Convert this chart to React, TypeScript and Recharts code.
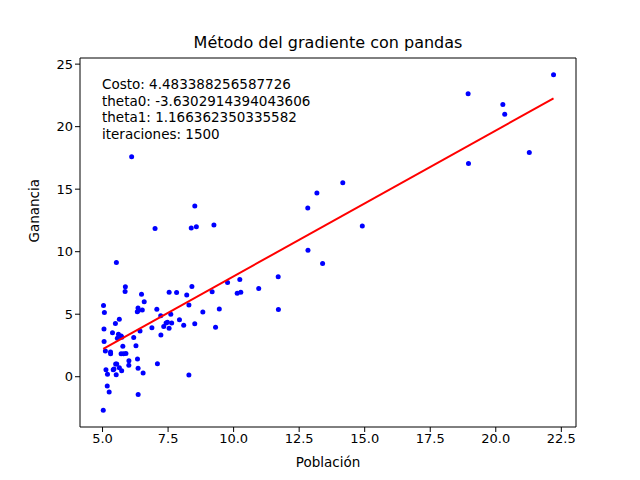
import { ComposedChart, Scatter, XAxis, YAxis } from 'recharts';

const poblacion = [6.1101,5.5277,8.5186,7.0032,5.8598,8.3829,7.4764,8.5781,6.4862,5.0546,5.7107,14.164,5.734,8.4084,5.6407,5.3794,6.3654,5.1301,6.4296,7.0708,6.1891,20.27,5.4901,6.3261,5.5649,18.945,12.828,10.957,13.176,22.203,5.2524,6.5894,9.2482,5.8918,8.2111,7.9334,8.0959,5.6063,12.836,6.3534,5.4069,6.8825,11.708,5.7737,7.8247,7.0931,5.0702,5.8014,11.7,5.5416,7.5402,5.3077,7.4239,7.6031,6.3328,6.3589,6.2742,5.6397,9.3102,9.4536,8.8254,5.1793,21.279,14.908,18.959,7.2182,8.2951,10.236,5.4994,20.341,10.136,7.3345,6.0062,7.2259,5.0269,6.5479,7.5386,5.0365,10.274,5.1077,5.7292,5.1884,6.3557,9.7687,6.5159,8.5172,9.1802,6.002,5.5204,5.0594,5.7077,7.6366,5.8707,5.3054,8.2934,13.394,5.4369];
const ganancia = [17.592,9.1302,13.662,11.854,6.8233,11.886,4.3483,12,6.5987,3.8166,3.2522,15.505,3.1551,7.2258,0.71618,3.5129,5.3048,0.56077,3.6518,5.3893,3.1386,21.767,4.263,5.1875,3.0825,22.638,13.501,7.0467,14.692,24.147,-1.22,5.9966,12.134,1.8495,6.5426,4.5623,4.1164,3.3928,10.117,5.4974,0.55657,3.9115,5.3854,2.4406,6.7318,1.0463,5.1337,1.844,8.0043,1.0179,6.7504,1.8396,4.2885,4.9981,1.4233,-1.4211,2.4756,4.6042,3.9624,5.4141,5.1694,-0.74279,17.929,12.054,17.054,4.8852,5.7442,7.7754,1.0173,20.992,6.6799,4.0259,1.2784,3.3411,-2.6807,0.29678,3.8845,5.7014,6.7526,2.0576,0.47953,0.20421,0.67861,7.5435,5.3436,4.2415,6.7981,0.92695,0.152,2.8214,1.8451,4.2959,7.2029,1.9869,0.14454,9.0551,0.61705];
const theta0 = -3.6302914394043606;
const theta1 = 1.166362350335582;
const xTicks = [5, 7.5, 10, 12.5, 15, 17.5, 20, 22.5];
const yTicks = [0, 5, 10, 15, 20, 25];
const xDom = [4.14, 23.06];
const yDom = [-4.02, 25.49];

const puntos = poblacion.map((x, i) => ({ x, y: ganancia[i] }));
const xMin = Math.min(...poblacion);
const xMax = Math.max(...poblacion);
const recta = [xMin, xMax].map((x) => ({ x, y: theta0 + theta1 * x }));
// top and right frame edges
const marco = [
  { x: xDom[0], y: yDom[1] },
  { x: xDom[1], y: yDom[1] },
  { x: xDom[1], y: yDom[0] },
];

const font = 'DejaVu Sans, sans-serif';
const tick = { fill: '#000', fontSize: 13, fontFamily: font };
const ax = { stroke: '#000' };

export default function App() {
  return (
    <div style={{ position: 'absolute', left: 0, top: 0, width: 640, height: 480, background: '#fff', fontFamily: font }}>
      <div style={{ position: 'absolute', top: 33, width: 656, textAlign: 'center', fontSize: 16 }}>
        Método del gradiente con pandas
      </div>
      <div style={{ position: 'absolute', left: 102, top: 76, fontSize: 13.5, lineHeight: '16.5px', zIndex: 2 }}>
        Costo: 4.483388256587726<br />
        theta0: -3.6302914394043606<br />
        theta1: 1.166362350335582<br />
        iteraciones: 1500
      </div>
      <ComposedChart width={640} height={480} margin={{ top: 58, right: 64, bottom: 13, left: 30 }}>
        <XAxis type="number" dataKey="x" domain={xDom} ticks={xTicks} tickFormatter={(v) => v.toFixed(1)}
          tick={tick} tickSize={5} axisLine={ax} tickLine={ax} height={40}
          label={{ value: 'Población', position: 'insideBottom', offset: 0, fill: '#000', fontSize: 13.5, fontFamily: font }} />
        <YAxis type="number" dataKey="y" domain={yDom} ticks={yTicks} tick={tick} tickSize={5}
          axisLine={ax} tickLine={ax} width={50}
          label={{ value: 'Ganancia', angle: -90, position: 'insideLeft', offset: 0, dx: 4, fill: '#000', fontSize: 13.5, fontFamily: font }} />
        <Scatter data={puntos} fill="#0000ff" isAnimationActive={false}
          shape={(p: any) => <circle cx={p.cx} cy={p.cy} r={2.5} fill="#0000ff" />} />
        <Scatter data={recta} line={{ stroke: '#ff0000', strokeWidth: 2 }} isAnimationActive={false}
          shape={() => <g />} />
        <Scatter data={marco} line={{ stroke: '#000', strokeWidth: 1 }} isAnimationActive={false} shape={() => <g />} />
      </ComposedChart>
    </div>
  );
}
